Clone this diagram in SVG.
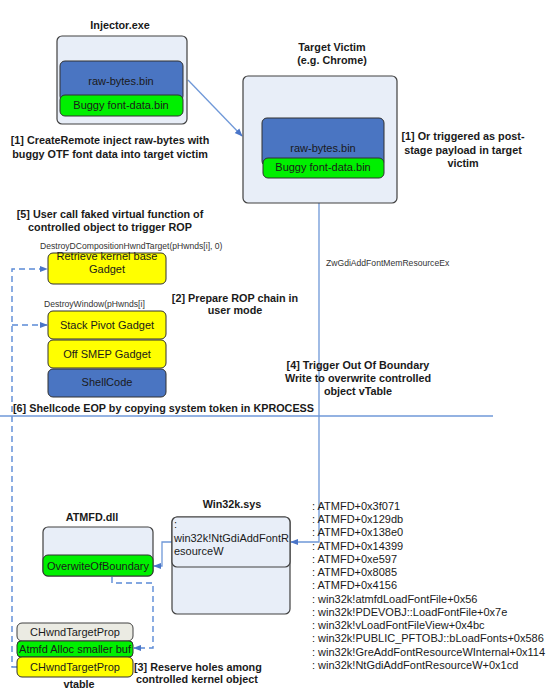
<svg xmlns="http://www.w3.org/2000/svg" width="550" height="696" viewBox="0 0 550 696">
<defs>
<style>
.t{font-family:"Liberation Sans",Arial,sans-serif;fill:#1a1a1a}
.b{font-weight:bold;font-size:10.8px}
.n{font-size:11px}
.s{font-size:8.6px;fill:#333}
.box{fill:#E8EEF8;stroke:#404040;stroke-width:1.2}
.blue{fill:#4A75C2;stroke:#303030;stroke-width:1}
.green{fill:#00F000;stroke:#303030;stroke-width:1}
.yel{fill:#FFFF00;stroke:#303030;stroke-width:1}
.gray{fill:#EBEBE3;stroke:#404040;stroke-width:1}
.ln{fill:none;stroke:#6F98D8;stroke-width:1.3}
.dl{fill:none;stroke:#5B8AD6;stroke-width:1.4;stroke-dasharray:6,4}
</style>
<marker id="ah" viewBox="0 0 10 10" refX="9" refY="5" markerWidth="7" markerHeight="7" orient="auto" markerUnits="userSpaceOnUse">
<path d="M0,1 L10,5 L0,9 Z" fill="#4A75C8"/>
</marker>
<marker id="ah2" viewBox="0 0 10 10" refX="9" refY="5" markerWidth="8" markerHeight="8" orient="auto" markerUnits="userSpaceOnUse">
<path d="M0,1 L10,5 L0,9 Z" fill="#4A75C8"/>
</marker>
</defs>
<rect width="550" height="696" fill="#fff"/>

<g id="connectors">
<line class="ln" x1="188" y1="80" x2="242" y2="136" marker-end="url(#ah2)"/>
<path class="ln" d="M319,203 V542 H291" marker-end="url(#ah2)"/>
<path class="ln" d="M172,542 H162 V566 H154" marker-end="url(#ah2)"/>
<path class="dl" d="M112,577 V583 H153 V648 H134" marker-end="url(#ah2)"/>
<path class="dl" d="M17,667 H12 V269 H47" marker-end="url(#ah2)"/>
<path class="dl" d="M12,325 H47" marker-end="url(#ah2)"/>
<line class="ln" x1="0" y1="416" x2="493" y2="416"/>
</g>

<g id="injector">
<text class="t b" x="120" y="29" text-anchor="middle">Injector.exe</text>
<rect class="box" x="57" y="36" width="130" height="88" rx="5"/>
<rect class="blue" x="60" y="61" width="123" height="40" rx="5"/>
<text class="t n" x="121" y="85" text-anchor="middle">raw-bytes.bin</text>
<rect class="green" x="60" y="95" width="123" height="21" rx="5"/>
<text class="t n" x="121" y="109" text-anchor="middle">Buggy font-data.bin</text>
</g>

<g id="label1">
<text class="t b" x="110" y="144" text-anchor="middle">[1] CreateRemote inject raw-bytes with</text>
<text class="t b" x="110" y="158" text-anchor="middle">buggy OTF font data into target victim</text>
</g>

<g id="target">
<text class="t b" x="332" y="51" text-anchor="middle">Target Victim</text>
<text class="t b" x="332" y="64" text-anchor="middle">(e.g. Chrome)</text>
<rect class="box" x="243" y="76" width="154" height="127" rx="5"/>
<rect class="blue" x="262" y="118" width="122" height="48" rx="5"/>
<text class="t n" x="323" y="152" text-anchor="middle">raw-bytes.bin</text>
<rect class="green" x="263" y="158" width="121" height="20" rx="5"/>
<text class="t n" x="323" y="171" text-anchor="middle">Buggy font-data.bin</text>
</g>

<g id="label1b">
<text class="t b" x="463" y="140" text-anchor="middle">[1] Or triggered as post-</text>
<text class="t b" x="463" y="154" text-anchor="middle">stage payload in target</text>
<text class="t b" x="463" y="167" text-anchor="middle">victim</text>
</g>

<g id="label5">
<text class="t b" x="110" y="218" text-anchor="middle">[5] User call faked virtual function of</text>
<text class="t b" x="110" y="231" text-anchor="middle">controlled object to trigger ROP</text>
</g>

<g id="gadget-retrieve">
<text class="t s" x="40" y="249">DestroyDCompositionHwndTarget(pHwnds[i], 0)</text>
<rect class="yel" x="48" y="253" width="118" height="31" rx="5"/>
<text class="t n" x="107" y="260" text-anchor="middle">Retrieve kernel base</text>
<text class="t n" x="107" y="273" text-anchor="middle">Gadget</text>
</g>

<g id="label2">
<text class="t b" x="235" y="302" text-anchor="middle">[2] Prepare ROP chain in</text>
<text class="t b" x="235" y="314" text-anchor="middle">user mode</text>
</g>

<g id="gadget-stack">
<text class="t s" x="44" y="307">DestroyWindow(pHwnds[i]</text>
<rect class="yel" x="48" y="311" width="118" height="28" rx="5"/>
<text class="t n" x="107" y="329" text-anchor="middle">Stack Pivot Gadget</text>
</g>
<g id="gadget-smep">
<rect class="yel" x="48" y="340" width="118" height="28" rx="5"/>
<text class="t n" x="107" y="358" text-anchor="middle">Off SMEP Gadget</text>
</g>
<g id="shellcode">
<rect class="blue" x="48" y="369" width="118" height="28" rx="5"/>
<text class="t n" x="107" y="386" text-anchor="middle">ShellCode</text>
</g>

<g id="label4">
<text class="t s" x="326" y="266">ZwGdiAddFontMemResourceEx</text>
<text class="t b" x="358" y="369" text-anchor="middle">[4] Trigger Out Of Boundary</text>
<text class="t b" x="358" y="382" text-anchor="middle">Write to overwrite controlled</text>
<text class="t b" x="358" y="395" text-anchor="middle">object vTable</text>
</g>

<g id="label6">
<text class="t b" x="13" y="412">[6] Shellcode EOP by copying system token in KPROCESS</text>
</g>

<g id="win32k">
<text class="t b" x="232" y="508" text-anchor="middle">Win32k.sys</text>
<rect class="box" x="172" y="517" width="118" height="97" rx="5"/>
<rect class="box" x="172" y="517" width="118" height="50" rx="5"/>
<text class="t n" x="174" y="528">:</text>
<text class="t n" x="174" y="542">win32k!NtGdiAddFontR</text>
<text class="t n" x="174" y="555">esourceW</text>
</g>

<g id="atmfd">
<text class="t b" x="92" y="521" text-anchor="middle">ATMFD.dll</text>
<rect class="box" x="43" y="527" width="110" height="49" rx="5"/>
<rect class="green" x="43" y="555" width="110" height="21" rx="5"/>
<text class="t n" x="98" y="570" text-anchor="middle">OverwiteOfBoundary</text>
</g>

<g id="objects">
<rect class="gray" x="17" y="623" width="116" height="18" rx="5"/>
<text class="t n" x="75" y="636" text-anchor="middle">CHwndTargetProp</text>
<rect class="green" x="17" y="641" width="116" height="16" rx="4"/>
<text class="t n" x="75" y="653" text-anchor="middle">Atmfd Alloc smaller buf</text>
<rect class="yel" x="17" y="657" width="116" height="20" rx="5"/>
<text class="t n" x="75" y="671" text-anchor="middle">CHwndTargetProp</text>
<text class="t b" x="79" y="688" text-anchor="middle">vtable</text>
</g>

<g id="label3">
<text class="t b" x="134" y="671">[3] Reserve holes among</text>
<text class="t b" x="136" y="683">controlled kernel object</text>
</g>

<g id="callstack">
<text class="t n" x="312" y="510">: ATMFD+0x3f071</text>
<text class="t n" x="312" y="523">: ATMFD+0x129db</text>
<text class="t n" x="312" y="536">: ATMFD+0x138e0</text>
<text class="t n" x="312" y="550">: ATMFD+0x14399</text>
<text class="t n" x="312" y="563">: ATMFD+0xe597</text>
<text class="t n" x="312" y="576">: ATMFD+0x8085</text>
<text class="t n" x="312" y="589">: ATMFD+0x4156</text>
<text class="t n" x="312" y="603">: win32k!atmfdLoadFontFile+0x56</text>
<text class="t n" x="312" y="616">: win32k!PDEVOBJ::LoadFontFile+0x7e</text>
<text class="t n" x="312" y="629">: win32k!vLoadFontFileView+0x4bc</text>
<text class="t n" x="312" y="642">: win32k!PUBLIC_PFTOBJ::bLoadFonts+0x586</text>
<text class="t n" x="312" y="656">: win32k!GreAddFontResourceWInternal+0x114</text>
<text class="t n" x="312" y="669">: win32k!NtGdiAddFontResourceW+0x1cd</text>
</g>
</svg>
